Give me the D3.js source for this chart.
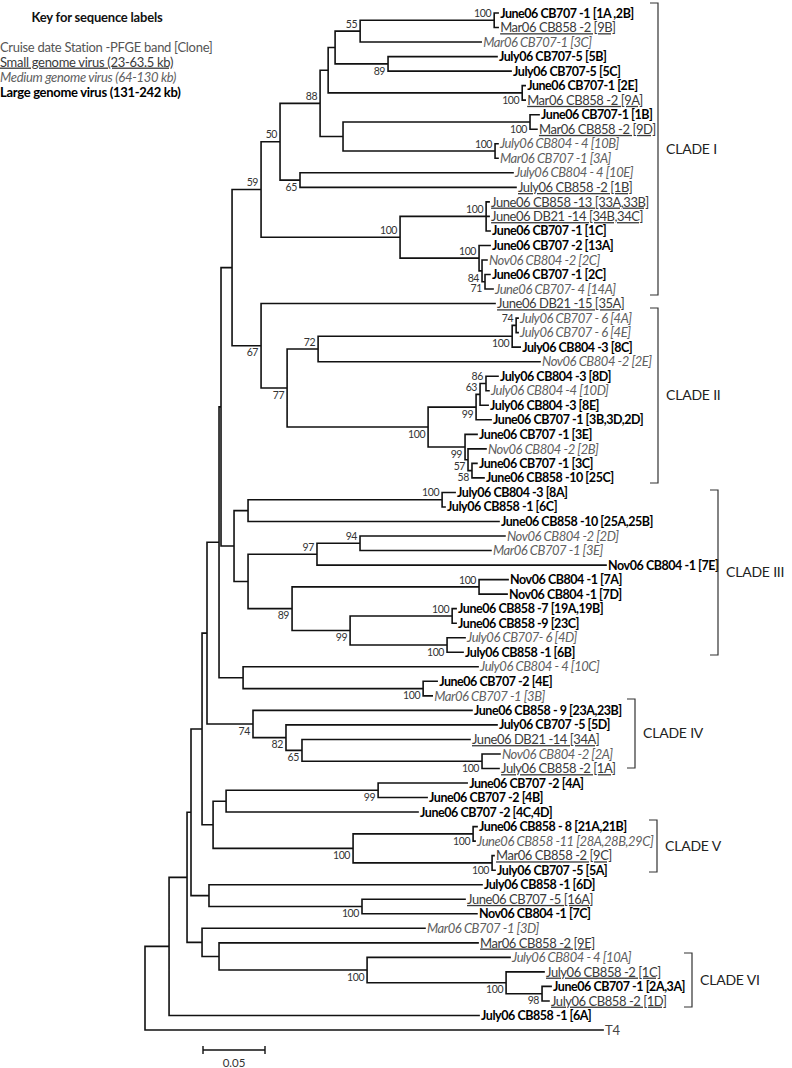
<!DOCTYPE html>
<html><head><meta charset="utf-8">
<script src="https://cdn.jsdelivr.net/npm/d3@7"></script>
<style>
body{margin:0;background:#fff;}
svg{display:block;}
text{font-family:Lato,"Open Sans",sans-serif;}
</style></head><body>
<svg id="chart" width="792" height="1068"></svg>
<script>
// ---------------- DATA ----------------
const tipLabels = [
"June06 CB707 -1 [1A ,2B]","Mar06 CB858 -2 [9B]","Mar06 CB707-1 [3C]","July06 CB707-5 [5B]","July06 CB707-5 [5C]",
"June06 CB707-1 [2E]","Mar06 CB858 -2 [9A]","June06 CB707-1 [1B]","Mar06 CB858 -2 [9D]","July06 CB804 - 4 [10B]",
"Mar06 CB707 -1 [3A]","July06 CB804 - 4 [10E]","July06 CB858 -2 [1B]","June06 CB858 -13 [33A,33B]","June06 DB21 -14 [34B,34C]",
"June06 CB707 -1 [1C]","June06 CB707 -2 [13A]","Nov06 CB804 -2 [2C]","June06 CB707 -1 [2C]","June06 CB707- 4 [14A]",
"June06 DB21 -15 [35A]","July06 CB707 - 6 [4A]","July06 CB707 - 6 [4E]","July06 CB804 -3 [8C]","Nov06 CB804 -2 [2E]",
"July06 CB804 -3 [8D]","July06 CB804 -4 [10D]","July06 CB804 -3 [8E]","June06 CB707 -1 [3B,3D,2D]","June06 CB707 -1 [3E]",
"Nov06 CB804 -2 [2B]","June06 CB707 -1 [3C]","June06 CB858 -10 [25C]","July06 CB804 -3 [8A]","July06 CB858 -1 [6C]",
"June06 CB858 -10 [25A,25B]","Nov06 CB804 -2 [2D]","Mar06 CB707 -1 [3E]","Nov06 CB804 -1 [7E]","Nov06 CB804 -1 [7A]",
"Nov06 CB804 -1 [7D]","June06 CB858 -7 [19A,19B]","June06 CB858 -9 [23C]","July06 CB707- 6 [4D]","July06 CB858 -1 [6B]",
"July06 CB804 - 4 [10C]","June06 CB707 -2 [4E]","Mar06 CB707 -1 [3B]","June06 CB858 - 9 [23A,23B]","July06 CB707 -5 [5D]",
"June06 DB21 -14 [34A]","Nov06 CB804 -2 [2A]","July06 CB858 -2 [1A]","June06 CB707 -2 [4A]","June06 CB707 -2 [4B]",
"June06 CB707 -2 [4C,4D]","June06 CB858 - 8 [21A,21B]","June06 CB858 -11 [28A,28B,29C]","Mar06 CB858 -2 [9C]","July06 CB707 -5 [5A]",
"July06 CB858 -1 [6D]","June06 CB707 -5 [16A]","Nov06 CB804 -1 [7C]","Mar06 CB707 -1 [3D]","Mar06 CB858 -2 [9E]",
"July06 CB804 - 4 [10A]","July06 CB858 -2 [1C]","June06 CB707 -1 [2A,3A]","July06 CB858 -2 [1D]","July06 CB858 -1 [6A]",
"T4"];
// genome size class: L large, S small, M medium, R reference
const tipGenome = [
"L","S","M","L","L","L","S","L","S","M",
"M","M","S","S","S","L","L","M","L","M",
"S","M","M","L","M","L","M","L","L","L",
"M","L","L","L","L","L","M","M","L","L",
"L","L","L","M","L","M","L","M","L","L",
"S","M","S","L","L","L","L","M","S","L",
"L","S","L","M","S","M","S","L","S","L",
"R"];

// Tree (Newick, leaf names = tip index, internal names = bootstrap, branch lengths = distance)
const cladeITree = "(((((((0:0.0032,1:0.0032)100:0.1081,2:0.0976)55:0.0202,(3:0.0879,4:0.0992)89:0.0427):0.0056,(5:0.0024,6:0.0024)100:0.1565):0.0065,((7:0.0073,8:0.0056)100:0.1508,(9:0.0024,10:0.0024)100:0.1226):0.0185)88:0.0323,(11:0.1718,12:0.1742)65:0.0161)50:0.0153,((13:0.0024,14:0.0024,15:0.0032)100:0.0694,(16:0.0089,(17:0.0040,(18:0.0040,19:0.0065)71:0.0024)84:0.0024)100:0.0637)100:0.1121)59:0.0234";
const cladeIITree = "(20:0.1887,((((21:0.0016,22:0.0016)74:0.0032,23:0.0065)100:0.1565,24:0.1790)72:0.0250,((((25:0.0097,26:0.0024)86:0.0048,27:0.0065)63:0.0032,28:0.0121)99:0.0387,(29:0.0097,(30:0.0145,(31:0.0040,32:0.0097)58:0.0032)57:0.0024)99:0.0298)100:0.1137)77:0.0210)67:0.0234";
const cladeIIITree = "(((33:0.0105,34:0.0024)100:0.1565,35:0.2024):0.0113,(((36:0.1169,37:0.1056)94:0.0347,38:0.2331)97:0.0556,((39:0.0234,40:0.0226)100:0.1508,((41:0.0032,42:0.0032)100:0.0823,(43:0.0145,44:0.0129)100:0.0782)99:0.0468)89:0.0355):0.0113):0.0105";
const group10CTree = "(45:0.1895,(46:0.0113,47:0.0073)100:0.1452):0.0194";
const cladeIVTree = "(48:0.1766,(49:0.1702,(50:0.1355,(51:0.0145,52:0.0137)100:0.1452)65:0.0129)82:0.0266)74:0.0371";
const cladeVGroupTree = "(((53:0.0718,54:0.0395)99:0.1226,55:0.1548):0.0105,((56:0.0032,57:0.0016)100:0.0968,(58:0.0016,59:0.0024)100:0.1121)100:0.1129):0.0089";
const group6DTree = "(60:0.2202,(61:0.0831,62:0.0927)100:0.1234):0.0145";
const cladeVIGroupTree = "(63:0.1798,(64:0.2089,(65:0.1153,(66:0.0306,(67:0.0073,68:0.0056)98:0.0290)100:0.1121)100:0.1194):0.0137):0.0121";
const treeNewick =
  "((((((((" + "(" + cladeITree + "," + cladeIITree + "):0.0089," + cladeIIITree + "):0.0016," + group10CTree + "):0.0097," +
  cladeIVTree + "):0.0040," + cladeVGroupTree + "):0.0089," + group6DTree + "):0.0032," + cladeVIGroupTree +
  "):0.0145,69:0.2500):0.0194,70:0.3694);";

const cladeNames = ["CLADE I","CLADE II","CLADE III","CLADE IV","CLADE V","CLADE VI"];
const cladeFirstTip = [0,21,33,48,56,65];
const cladeLastTip  = [19,32,44,52,59,68];

const keyTitle = "Key for sequence labels";
const keyLines = ["Cruise date Station -PFGE band [Clone]","Small genome virus (23-63.5 kb)","Medium genome virus (64-130 kb)","Large genome virus (131-242 kb)"];
const keyGenome = ["R","S","M","L"];
const scaleBarValue = 0.05;

// ---------------- LAYOUT / STYLE ----------------
const rootX = 145, pxPerUnit = 1240;
const firstTipY = 13, lastTipY = 1030;
const bracketX = [658,658,718,635,657,692];
const bracketTop = [3,308,490,699,820,953];
const bracketBottom = [295,483,655,768,872,1007];
// bootstrap labels whose side differs from default (first child above, others below); keyed by "firstLeaf-lastLeaf"
const bootFlip = ["9-10","13-19","16-19","7-8","21-23","25-28","53-54","56-57"];
const genomeStyle = {
  L:{weight:"bold", style:"normal", deco:"none", fill:"#000", size:12.5, ls:-0.45},
  S:{weight:"normal", style:"normal", deco:"underline", fill:"#3a3a3a", size:13, ls:-0.45},
  M:{weight:"normal", style:"italic", deco:"none", fill:"#606060", size:13, ls:-0.45},
  R:{weight:"normal", style:"normal", deco:"none", fill:"#444", size:13, ls:-0.3}
};

// ---------------- BUILD ----------------
function parseNewick(s){
  let i = 0;
  function node(){
    const n = {};
    if (s[i] === "("){
      i++; n.children = [node()];
      while (s[i] === ","){ i++; n.children.push(node()); }
      i++;
    }
    let name = "";
    while (i < s.length && !",:();".includes(s[i])) name += s[i++];
    n.name = name;
    if (s[i] === ":"){ i++; let num = ""; while (i < s.length && !",();".includes(s[i])) num += s[i++]; n.length = +num; }
    return n;
  }
  return node();
}

const root = d3.hierarchy(parseNewick(treeNewick));
root.each(d => { d.dist = d.parent ? d.parent.dist + (d.data.length || 0) : 0; });

const x = d3.scaleLinear().domain([0, scaleBarValue]).range([rootX, rootX + scaleBarValue * pxPerUnit]);
const y = d3.scaleLinear().domain([0, tipLabels.length - 1]).range([firstTipY, lastTipY]);

root.eachAfter(d => {
  if (d.children){
    d.yv = (d.children[0].yv + d.children[d.children.length - 1].yv) / 2;
    const lv = d.leaves();
    d.key = lv[0].data.name + "-" + lv[lv.length - 1].data.name;
  } else d.yv = y(+d.data.name);
});

const svg = d3.select("#chart");
const g = svg.append("g");

// branches
const paths = [];
root.each(d => {
  if (d.parent) paths.push(`M${x(d.parent.dist)},${d.yv}H${x(d.dist)}`);
  if (d.children) paths.push(`M${x(d.dist)},${d.children[0].yv}V${d.children[d.children.length-1].yv}`);
});
g.append("path").attr("d", paths.join("")).attr("fill","none").attr("stroke","#111")
  .attr("stroke-width",1.6).attr("stroke-linecap","square");

// tip labels
g.selectAll("text.tip").data(root.leaves()).join("text").attr("class","tip")
  .attr("x", d => x(d.dist) + 2).attr("y", d => d.yv).attr("dy","0.36em")
  .each(function(d){
    const i = +d.data.name, st = genomeStyle[tipGenome[i]];
    d3.select(this).text(tipLabels[i]).style("font-weight", st.weight).style("font-style", st.style)
      .style("font-size", st.size + "px").style("letter-spacing", st.ls + "px")
      .style("text-decoration", st.deco).attr("fill", st.fill);
  });

// bootstrap values
const boots = root.descendants().filter(d => d.children && d.data.name !== "");
g.selectAll("text.boot").data(boots).join("text").attr("class","boot")
  .attr("x", d => x(d.dist) - 3)
  .attr("y", d => {
    let above = d.parent && d.parent.children[0] === d;
    if (bootFlip.includes(d.key)) above = !above;
    return d.yv + (above ? -7 : 7);
  })
  .attr("dy","0.35em").attr("text-anchor","end").attr("fill","#333")
  .style("font-size","10.5px").style("letter-spacing","-0.4px")
  .text(d => d.data.name);

// clade brackets
cladeNames.forEach((name, i) => {
  const bx = bracketX[i], t = bracketTop[i], b = bracketBottom[i];
  g.append("path").attr("d", `M${bx-8},${t}H${bx}V${b}H${bx-8}`).attr("fill","none")
    .attr("stroke","#333").attr("stroke-width",1.2);
  g.append("text").attr("x", bx + 8).attr("y", (t + b) / 2).attr("dy","0.35em")
    .attr("fill","#222").style("font-size","14px").style("letter-spacing","-0.2px").text(name);
});

// key
svg.append("text").attr("x", 97).attr("y", 17).attr("dy","0.35em").attr("text-anchor","middle")
  .style("font-size","13px").style("font-weight","bold").style("letter-spacing","-0.2px").attr("fill","#111").text(keyTitle);
keyLines.forEach((t, i) => {
  const st = genomeStyle[keyGenome[i]];
  svg.append("text").attr("x", 0).attr("y", 47 + i * 15).attr("dy","0.35em")
    .style("font-size","13px").style("font-weight", st.weight).style("font-style", st.style)
    .style("letter-spacing","-0.3px")
    .style("text-decoration", st.deco).attr("fill", i === 0 ? "#555" : st.fill).text(t);
});

// scale bar
const sbX = 203, sbY = 1050;
const sbLen = x(scaleBarValue) - x(0);
svg.append("path").attr("d", `M${sbX},${sbY-4}V${sbY+4}M${sbX},${sbY}H${sbX+sbLen}M${sbX+sbLen},${sbY-4}V${sbY+4}`)
  .attr("stroke","#111").attr("stroke-width",1.4).attr("fill","none");
svg.append("text").attr("x", sbX + sbLen/2).attr("y", sbY + 13).attr("dy","0.35em").attr("text-anchor","middle")
  .style("font-size","11.5px").attr("fill","#333").text(d3.format(".2f")(scaleBarValue));
</script>
</body></html>
